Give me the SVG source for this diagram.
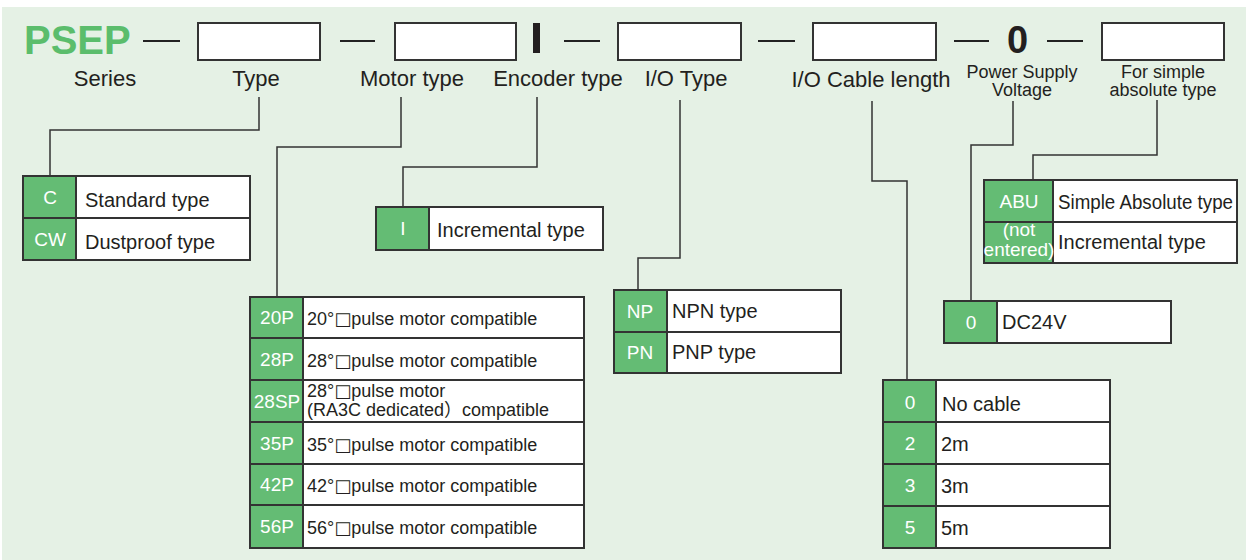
<svg xmlns="http://www.w3.org/2000/svg" width="1246" height="560" viewBox="0 0 1246 560">
<style>
.bg{fill:#e5f1e5}
.slot{fill:#fff;stroke:#333;stroke-width:2}
.dash{stroke:#222;stroke-width:2}
.lbl{font-family:"Liberation Sans",Arial,sans-serif;font-size:22px;fill:#231f20;text-anchor:middle}
.lbl2{font-family:"Liberation Sans",Arial,sans-serif;font-size:18px;fill:#231f20;text-anchor:middle}
.frame{fill:#fff;stroke:#333;stroke-width:2}
.code{fill:#64bc74}
.row{stroke:#333;stroke-width:2}
.ct{font-family:"Liberation Sans",Arial,sans-serif;font-size:19px;fill:#fff;text-anchor:middle}
.dt{font-family:"Liberation Sans",Arial,sans-serif;font-size:20px;fill:#231f20}
.mt{font-family:"Liberation Sans","DejaVu Sans","Noto Sans CJK JP",sans-serif;font-size:18px;fill:#231f20}
.sq{font-family:"DejaVu Sans",sans-serif}
.conn{fill:none;stroke:#333;stroke-width:1.5}
</style>
<rect class="bg" x="2" y="7" width="1244" height="553"/>

<g id="header">
<text x="24" y="54" font-family="Liberation Sans,Arial,sans-serif" font-weight="bold" font-size="40" fill="#5bbd6c">PSEP</text>
<line class="dash" x1="143" y1="41" x2="180" y2="41"/>
<rect class="slot" x="198" y="23" width="122" height="37"/>
<line class="dash" x1="340" y1="41" x2="375" y2="41"/>
<rect class="slot" x="395" y="23" width="121" height="37"/>
<rect x="533" y="23" width="7" height="30" fill="#231f20"/>
<line class="dash" x1="564" y1="41" x2="600" y2="41"/>
<rect class="slot" x="618" y="23" width="123" height="37"/>
<line class="dash" x1="758" y1="41" x2="795" y2="41"/>
<rect class="slot" x="813" y="23" width="123" height="37"/>
<line class="dash" x1="954" y1="41" x2="989" y2="41"/>
<text x="1017.5" y="53" font-family="Liberation Sans,Arial,sans-serif" font-weight="bold" font-size="38" fill="#231f20" text-anchor="middle">0</text>
<line class="dash" x1="1047" y1="41" x2="1083" y2="41"/>
<rect class="slot" x="1102" y="23" width="122" height="37"/>
<text class="lbl" x="105" y="86">Series</text>
<text class="lbl" x="256" y="86">Type</text>
<text class="lbl" x="412" y="86">Motor type</text>
<text class="lbl" x="558" y="86">Encoder type</text>
<text class="lbl" x="686" y="86">I/O Type</text>
<text class="lbl" x="871" y="87">I/O Cable length</text>
<text class="lbl2" x="1022" y="78">Power Supply</text>
<text class="lbl2" x="1022" y="96">Voltage</text>
<text class="lbl2" x="1163" y="78">For simple</text>
<text class="lbl2" x="1163" y="96">absolute type</text>
</g>

<g id="connectors">
<polyline class="conn" points="259,97 259,130 50,130 50,176"/>
<polyline class="conn" points="401,97 401,147 277,147 277,297"/>
<polyline class="conn" points="537,97 537,167 403,167 403,207"/>
<polyline class="conn" points="680,100 680,258 638,258 638,290"/>
<polyline class="conn" points="872,101 872,181 907,181 907,380"/>
<polyline class="conn" points="1013,101 1013,145 971,145 971,301"/>
<polyline class="conn" points="1157,100 1157,155 1033,155 1033,180"/>
</g>

<g id="type-table">
<rect class="frame" x="23" y="176" width="227" height="84"/>
<rect class="code" x="24" y="177" width="52" height="82"/>
<line class="row" x1="23" y1="218" x2="250" y2="218"/>
<line class="row" x1="76" y1="176" x2="76" y2="260"/>
<text class="ct" x="50" y="204">C</text>
<text class="ct" x="50" y="246">CW</text>
<text class="dt" x="85" y="207">Standard type</text>
<text class="dt" x="85" y="249">Dustproof type</text>
</g>

<g id="encoder-table">
<rect class="frame" x="376" y="207" width="227" height="43"/>
<rect class="code" x="377" y="208" width="52" height="41"/>
<line class="row" x1="429" y1="207" x2="429" y2="250"/>
<text class="ct" x="403" y="235">I</text>
<text class="dt" x="437" y="237">Incremental type</text>
</g>

<g id="motor-table">
<rect class="frame" x="250" y="297" width="334" height="251"/>
<rect class="code" x="251" y="298" width="52" height="249"/>
<line class="row" x1="250" y1="338" x2="584" y2="338"/>
<line class="row" x1="250" y1="380" x2="584" y2="380"/>
<line class="row" x1="250" y1="422" x2="584" y2="422"/>
<line class="row" x1="250" y1="464" x2="584" y2="464"/>
<line class="row" x1="250" y1="505" x2="584" y2="505"/>
<line class="row" x1="303" y1="297" x2="303" y2="548"/>
<text class="ct" x="277" y="324">20P</text>
<text class="ct" x="277" y="366">28P</text>
<text class="ct" x="277" y="408" font-size="18">28SP</text>
<text class="ct" x="277" y="450">35P</text>
<text class="ct" x="277" y="491">42P</text>
<text class="ct" x="277" y="533">56P</text>
<text class="mt" x="307" y="325">20°<tspan class="sq">□</tspan>pulse motor compatible</text>
<text class="mt" x="307" y="367">28°<tspan class="sq">□</tspan>pulse motor compatible</text>
<text class="mt" x="307" y="397">28°<tspan class="sq">□</tspan>pulse motor</text>
<text class="mt" x="307" y="416">(RA3C dedicated）compatible</text>
<text class="mt" x="307" y="451">35°<tspan class="sq">□</tspan>pulse motor compatible</text>
<text class="mt" x="307" y="492">42°<tspan class="sq">□</tspan>pulse motor compatible</text>
<text class="mt" x="307" y="534">56°<tspan class="sq">□</tspan>pulse motor compatible</text>
</g>

<g id="io-table">
<rect class="frame" x="614" y="290" width="227" height="83"/>
<rect class="code" x="615" y="291" width="52" height="81"/>
<line class="row" x1="614" y1="332" x2="841" y2="332"/>
<line class="row" x1="667" y1="290" x2="667" y2="373"/>
<text class="ct" x="640" y="318">NP</text>
<text class="ct" x="640" y="359">PN</text>
<text class="dt" x="672" y="318">NPN type</text>
<text class="dt" x="672" y="359">PNP type</text>
</g>

<g id="cable-table">
<rect class="frame" x="883" y="380" width="227" height="168"/>
<rect class="code" x="884" y="381" width="52" height="166"/>
<line class="row" x1="883" y1="422" x2="1110" y2="422"/>
<line class="row" x1="883" y1="464" x2="1110" y2="464"/>
<line class="row" x1="883" y1="506" x2="1110" y2="506"/>
<line class="row" x1="936" y1="380" x2="936" y2="548"/>
<text class="ct" x="910" y="409">0</text>
<text class="ct" x="910" y="450">2</text>
<text class="ct" x="910" y="492">3</text>
<text class="ct" x="910" y="534">5</text>
<text class="dt" x="942" y="411">No cable</text>
<text class="dt" x="941" y="451">2m</text>
<text class="dt" x="941" y="493">3m</text>
<text class="dt" x="941" y="535">5m</text>
</g>

<g id="power-table">
<rect class="frame" x="944" y="301" width="227" height="42"/>
<rect class="code" x="945" y="302" width="52" height="40"/>
<line class="row" x1="997" y1="301" x2="997" y2="343"/>
<text class="ct" x="971" y="329">0</text>
<text class="dt" x="1002" y="329">DC24V</text>
</g>

<g id="absolute-table">
<rect class="frame" x="984" y="180" width="253" height="83"/>
<rect class="code" x="985" y="181" width="68" height="81"/>
<line class="row" x1="984" y1="222" x2="1237" y2="222"/>
<line class="row" x1="1053" y1="180" x2="1053" y2="263"/>
<text class="ct" x="1019" y="208">ABU</text>
<text class="ct" x="1019" y="236" font-size="13">(not</text>
<text class="ct" x="1019" y="256" font-size="13">entered)</text>
<text class="dt" x="1058" y="209" font-size="18" textLength="175" lengthAdjust="spacingAndGlyphs">Simple Absolute type</text>
<text class="dt" x="1058" y="249" font-size="19">Incremental type</text>
</g>
</svg>
